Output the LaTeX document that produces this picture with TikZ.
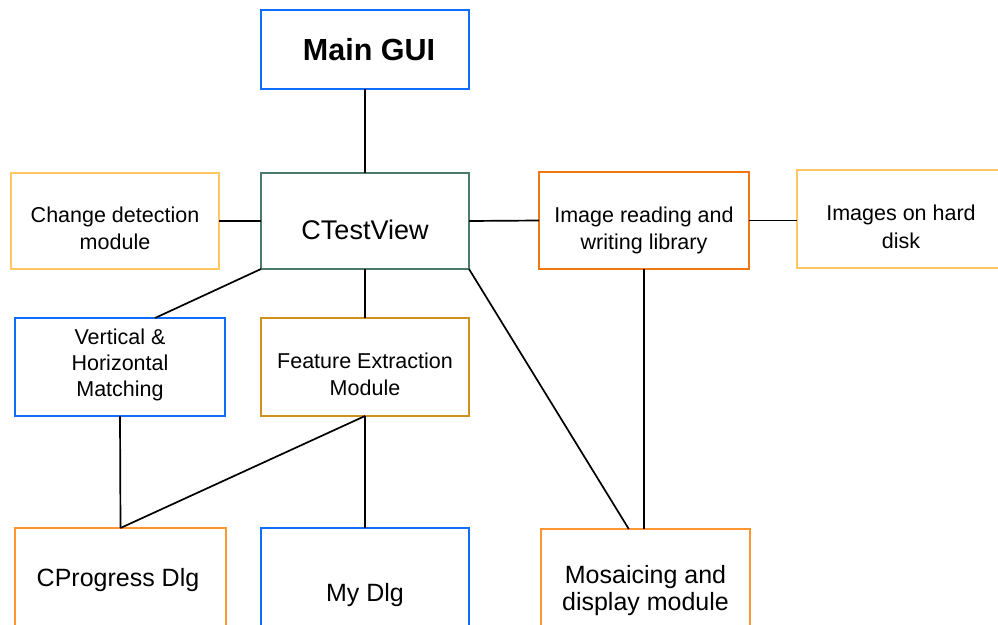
\documentclass[tikz,border=0pt]{standalone}
\usepackage{fontspec}
\setmainfont{Liberation Sans}
\usetikzlibrary{calc}

\definecolor{boxblue}{RGB}{16,110,255}
\definecolor{boxteal}{RGB}{76,122,104}
\definecolor{boxsand}{RGB}{255,200,100}
\definecolor{boxorange}{RGB}{240,120,20}
\definecolor{boxgold}{RGB}{205,145,30}
\definecolor{boxpeach}{RGB}{255,150,50}

\begin{document}
\begin{tikzpicture}[x=1pt,y=-1pt,
  box/.style={draw=#1, line width=2.4pt, fill=white, inner sep=0pt, outer sep=0pt},
  wire/.style={line width=1.7pt, black},
  lbl/.style={anchor=north, inner sep=0pt, align=center,
    font=\fontsize{21.5}{27.5}\selectfont},
  bigl/.style={anchor=north, inner sep=0pt, align=center,
    font=\fontsize{25}{27.5}\selectfont}]
\useasboundingbox (0,0) rectangle (998,624);
\clip (0,0) rectangle (998,624);

% boxes
\node[box=boxblue,   minimum width=208pt, minimum height=79pt] (gui) at (365,49.5) {};
\node[box=boxsand,   minimum width=208pt, minimum height=96pt] (cd)  at (115,221) {};
\node[box=boxteal,   minimum width=208pt, minimum height=96pt] (ctv) at (365,221) {};
\node[box=boxorange, minimum width=210pt, minimum height=97pt] (irw) at (644,220.5) {};
\node[box=boxsand,   minimum width=208pt, minimum height=98pt] (hd)  at (901,219) {};
\node[box=boxblue,   minimum width=210pt, minimum height=98pt] (vm)  at (120,367) {};
\node[box=boxgold,   minimum width=208pt, minimum height=98pt] (fe)  at (365,367) {};
\node[box=boxpeach,  minimum width=211pt, minimum height=130pt, anchor=north] (cp)  at (120.5,528) {};
\node[box=boxblue,   minimum width=208pt, minimum height=130pt, anchor=north] (md)  at (365,528) {};
\node[box=boxpeach,  minimum width=209pt, minimum height=130pt, anchor=north] (mos) at (645.5,529) {};

% labels
\node[anchor=north, inner sep=0pt, font=\fontsize{30.5}{36}\selectfont\bfseries] (tgui) at (369,38.5) {Main GUI};
\node[anchor=north, inner sep=0pt, font=\fontsize{27}{32}\selectfont] (tctv) at (365,220) {CTestView};
\node[lbl] (tcd)  at (115,206.5) {Change detection\\module};
\node[lbl] (tirw) at (644,206.5) {Image reading and\\writing library};
\node[lbl] (thd)  at (901,205) {Images on hard\\disk};
\node[lbl, font=\fontsize{21.5}{26}\selectfont] (tvm) at (120,329) {Vertical \&\\Horizontal\\Matching};
\node[lbl, font=\fontsize{21.5}{26.7}\selectfont] (tfe) at (365,353) {Feature Extraction\\Module};
\node[bigl] (tcp)  at (118,568) {CProgress Dlg};
\node[bigl] (tmd)  at (365,582.7) {My Dlg};
\node[bigl] (tmos) at (645.5,565) {Mosaicing and\\display module};

% connectors
\draw[wire] (gui.south) -- (ctv.north);
\draw[wire] (cd.east) -- (ctv.west);
\draw[wire] (ctv.east) -- (irw.west);
\draw[wire] (irw.east) -- (irw.east -| hd.west);
\draw[wire] (ctv.south west) -- ($(vm.north west)!0.667!(vm.north east)$);
\draw[wire] (ctv.south) -- (fe.north);
\draw[wire] (ctv.south east) -- ($(mos.north west)!0.42!(mos.north east)$);
\draw[wire] (irw.south) -- (irw.south |- mos.north);
\draw[wire] (vm.south) -- (cp.north);
\draw[wire] (fe.south) -- (cp.north);
\draw[wire] (fe.south) -- (md.north);
\end{tikzpicture}
\end{document}
